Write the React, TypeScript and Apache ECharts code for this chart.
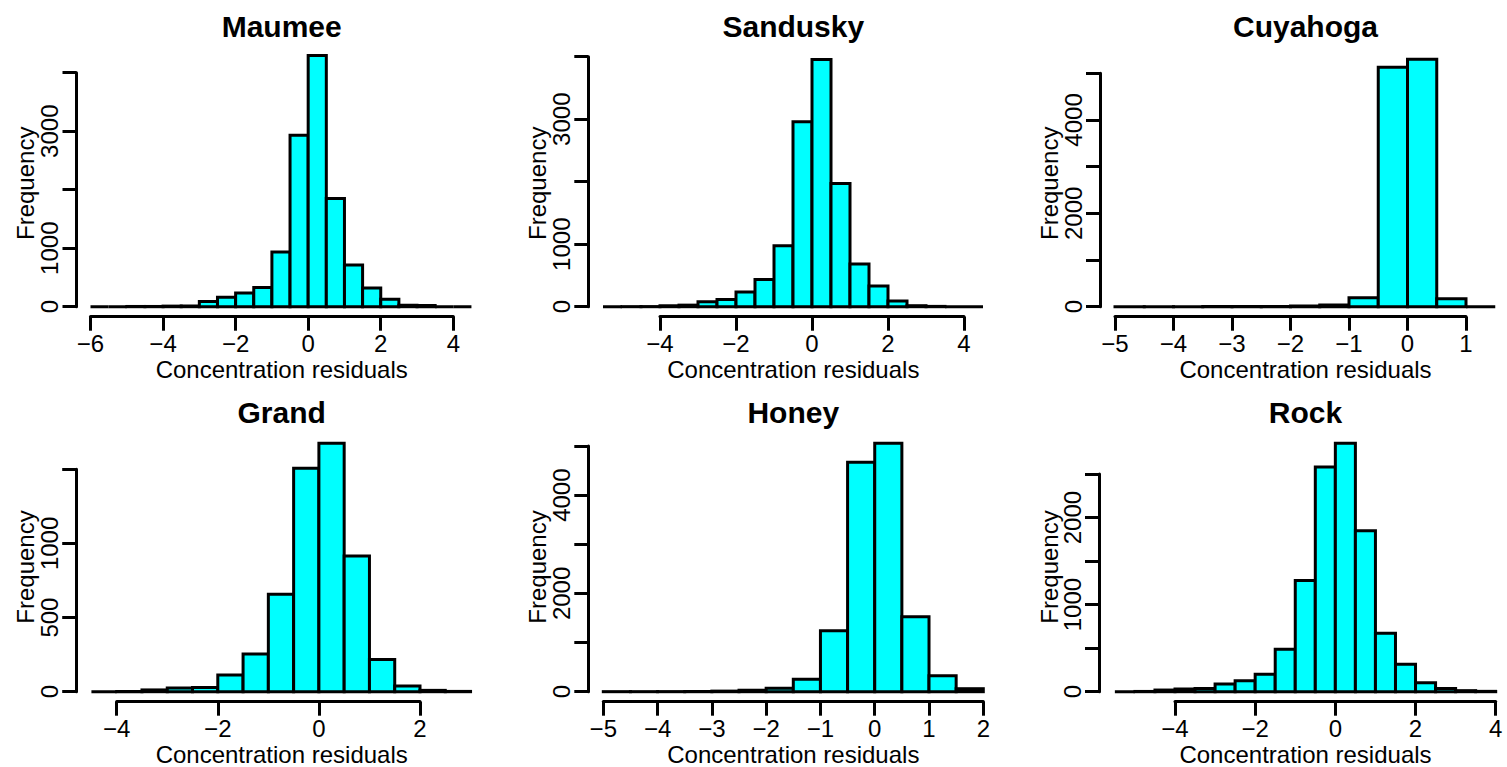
import React, { useEffect, useRef } from "react";
import * as echarts from "echarts";

// ---------------- data ----------------
const BIN_WIDTH = 0.5;
const riverNames = ["Maumee", "Sandusky", "Cuyahoga", "Grand", "Honey", "Rock"];

const maumeeBinStart = -6;
const maumeeCounts = [0, 0, 4, 4, 10, 12, 91, 160, 234, 330, 936, 2930, 4295, 1850, 711, 318, 127, 25, 20, 0, 0];

const sanduskyBinStart = -5.5;
const sanduskyCounts = [0, 1, 2, 15, 25, 80, 117, 235, 437, 976, 2960, 3957, 1973, 683, 331, 91, 16, 5, 0, 0];

const cuyahogaBinStart = -5;
const cuyahogaCounts = [1, 1, 1, 2, 3, 5, 14, 36, 193, 5129, 5300, 171, 0];

const grandBinStart = -4.5;
const grandCounts = [0, 1, 12, 25, 29, 112, 254, 657, 1507, 1675, 915, 218, 38, 9, 2];

const honeyBinStart = -5;
const honeyCounts = [1, 1, 2, 4, 12, 30, 70, 251, 1241, 4667, 5054, 1526, 326, 61];

const rockBinStart = -5.5;
const rockCounts = [0, 3, 19, 31, 38, 89, 127, 200, 487, 1276, 2579, 2854, 1847, 670, 316, 104, 38, 12, 4];

// axis ticks: [min, max, interval]
const xTicks = [
  [-6, 4, 2],
  [-4, 4, 2],
  [-5, 1, 1],
  [-4, 2, 2],
  [-5, 2, 1],
  [-4, 4, 2],
];
const yTicks = [
  [0, 4000, 1000],
  [0, 4000, 1000],
  [0, 5000, 1000],
  [0, 1500, 500],
  [0, 5000, 1000],
  [0, 2500, 500],
];
// tick labels that are printed (others are dropped, as in the original)
const yLabelsShown = [
  [0, 1000, 3000],
  [0, 1000, 3000],
  [0, 2000, 4000],
  [0, 500, 1000],
  [0, 2000, 4000],
  [0, 1000, 2000],
];

const binStarts = [maumeeBinStart, sanduskyBinStart, cuyahogaBinStart, grandBinStart, honeyBinStart, rockBinStart];
const allCounts = [maumeeCounts, sanduskyCounts, cuyahogaCounts, grandCounts, honeyCounts, rockCounts];

// ---------------- layout ----------------
// [gridLeft, gridTop, gridWidth, gridHeight, yAxisOffset]
const layout = [
  [90.5, 72.7, 362.8, 234, 14],
  [660, 56.7, 304, 250, 71.7],
  [1115, 73.3, 351, 233.4, 15],
  [116.7, 469.3, 303.3, 222.4, 40.5],
  [603.3, 446, 380, 245.7, 15],
  [1175, 474, 320.7, 217.7, 76],
];
const colCenters = [281.7, 793.3, 1305.5];
const freqX = [25, 537, 1049];
const rowTitleY = [26.5, 412];
const rowXNameY = [369.5, 754.5];
const rowFreqY = [183.3, 567];

const FONT = "'Liberation Sans', Arial, Helvetica, sans-serif";

const minusFmt = (v: number) => (v < 0 ? "\u2212" + Math.abs(v) : String(v));

export default function App() {
  const ref = useRef<HTMLDivElement>(null);

  useEffect(() => {
    document.body.style.margin = "0";
    const chart = echarts.init(ref.current!, undefined, { renderer: "svg" });

    const grids: any[] = [];
    const xAxes: any[] = [];
    const yAxes: any[] = [];
    const series: any[] = [];
    const graphics: any[] = [];

    riverNames.forEach((name, i) => {
      const [gl, gt, gw, gh, yOff] = layout[i];
      grids.push({ left: gl, top: gt, width: gw, height: gh, containLabel: false });
      xAxes.push({
        type: "value",
        gridIndex: i,
        min: xTicks[i][0],
        max: xTicks[i][1],
        interval: xTicks[i][2],
        offset: 10,
        axisLine: { show: true, onZero: false, lineStyle: { color: "#000", width: 3 } },
        axisTick: { show: true, length: 14, lineStyle: { color: "#000", width: 3 } },
        axisLabel: {
          show: true,
          margin: 15,
          color: "#000",
          fontSize: 24,
          fontFamily: FONT,
          formatter: minusFmt,
        },
        splitLine: { show: false },
      });
      const shown = yLabelsShown[i];
      yAxes.push({
        type: "value",
        gridIndex: i,
        min: yTicks[i][0],
        max: yTicks[i][1],
        interval: yTicks[i][2],
        offset: yOff,
        axisLine: { show: true, onZero: false, lineStyle: { color: "#000", width: 3 } },
        axisTick: { show: true, length: 14, lineStyle: { color: "#000", width: 3 } },
        axisLabel: {
          show: true,
          rotate: 90,
          margin: 15,
          color: "#000",
          fontSize: 24,
          fontFamily: FONT,
          formatter: (v: number) => (shown.indexOf(v) >= 0 ? String(v) : ""),
        },
        splitLine: { show: false },
      });

      const counts = allCounts[i];
      const start = binStarts[i];
      const data = counts.map((c, k) => [start + k * BIN_WIDTH, start + (k + 1) * BIN_WIDTH, c]);
      series.push({
        type: "custom",
        name,
        xAxisIndex: i,
        yAxisIndex: i,
        clip: false,
        encode: { x: [0, 1], y: 2 },
        data,
        renderItem: (params: any, api: any) => {
          const x0 = api.value(0);
          const x1 = api.value(1);
          const c = api.value(2);
          const tl = api.coord([x0, c]);
          const br = api.coord([x1, 0]);
          return {
            type: "rect",
            shape: { x: tl[0], y: tl[1], width: br[0] - tl[0], height: br[1] - tl[1] },
            style: { fill: "#00FFFF", stroke: "#000", lineWidth: 3 },
          };
        },
      });

      const col = i % 3;
      const row = Math.floor(i / 3);
      graphics.push({
        type: "text",
        x: colCenters[col],
        y: rowTitleY[row],
        style: {
          text: name,
          fontSize: 30,
          fontWeight: "bold",
          fontFamily: FONT,
          fill: "#000",
          align: "center",
          verticalAlign: "middle",
        },
      });
      graphics.push({
        type: "text",
        x: colCenters[col],
        y: rowXNameY[row],
        style: {
          text: "Concentration residuals",
          fontSize: 24,
          fontFamily: FONT,
          fill: "#000",
          align: "center",
          verticalAlign: "middle",
        },
      });
      graphics.push({
        type: "text",
        x: freqX[col],
        y: rowFreqY[row],
        rotation: Math.PI / 2,
        style: {
          text: "Frequency",
          fontSize: 24,
          fontFamily: FONT,
          fill: "#000",
          align: "center",
          verticalAlign: "middle",
        },
      });
    });

    chart.setOption({
      animation: false,
      backgroundColor: "#fff",
      grid: grids,
      xAxis: xAxes,
      yAxis: yAxes,
      series,
      graphic: graphics,
    });

    return () => chart.dispose();
  }, []);

  return <div ref={ref} style={{ width: 1507, height: 767 }} />;
}
